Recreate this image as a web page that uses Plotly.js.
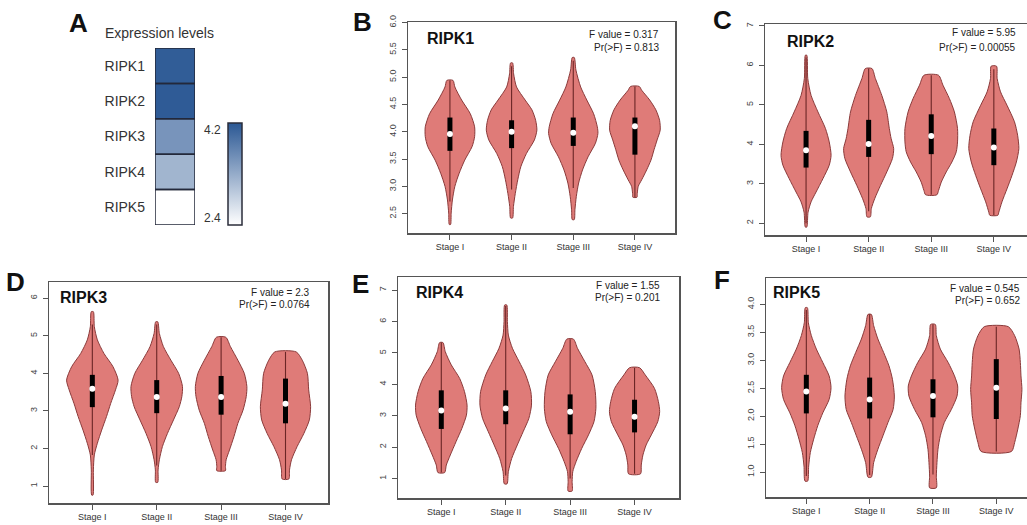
<!DOCTYPE html>
<html><head><meta charset="utf-8">
<script src="https://cdn.plot.ly/plotly-3.0.1.min.js"></script>
<style>html,body{margin:0;padding:0;background:#fff}#chart{width:1027px;height:525px}</style>
</head><body><div id="chart"></div>
<script>
// ---------------- DATA ----------------
const stages = ['Stage I', 'Stage II', 'Stage III', 'Stage IV'];
const genes = ['RIPK1', 'RIPK2', 'RIPK3', 'RIPK4', 'RIPK5'];
const heatValues = [4.15, 4.17, 3.55, 3.2, 2.4];
const heatRange = [2.4, 4.2];
const fValues = ['0.317', '5.95', '2.3', '1.55', '0.545'];
const pValues = ['0.813', '0.00055', '0.0764', '0.201', '0.652'];

// RIPK1
const ripk1Q1 = [3.65, 3.70, 3.74, 3.58];
const ripk1Median = [3.96, 4.00, 3.98, 4.10];
const ripk1Q3 = [4.26, 4.21, 4.26, 4.26];
const ripk1Low = [2.72, 2.94, 2.97, 2.80];
const ripk1High = [4.94, 5.20, 5.30, 4.83];
const ripk1ViolinY = [
  [4.94, 4.82, 4.58, 4.33, 4.09, 3.91, 3.73, 3.48, 3.24, 3.00, 2.75, 2.51, 2.30],
  [5.26, 5.06, 4.82, 4.58, 4.40, 4.21, 4.03, 3.85, 3.60, 3.36, 3.12, 2.87, 2.63, 2.42],
  [5.36, 5.13, 4.82, 4.58, 4.33, 4.09, 3.97, 3.79, 3.54, 3.30, 3.06, 2.81, 2.57, 2.39],
  [4.83, 4.76, 4.58, 4.40, 4.21, 4.03, 3.85, 3.67, 3.48, 3.30, 3.12, 3.00, 2.87, 2.80]
];
const ripk1ViolinW = [
  [0.05, 0.08, 0.19, 0.33, 0.40, 0.40, 0.36, 0.24, 0.15, 0.08, 0.04, 0.02, 0.01],
  [0.016, 0.033, 0.08, 0.22, 0.33, 0.39, 0.41, 0.37, 0.24, 0.15, 0.10, 0.06, 0.03, 0.016],
  [0.016, 0.043, 0.12, 0.22, 0.33, 0.39, 0.40, 0.36, 0.24, 0.15, 0.087, 0.049, 0.027, 0.016],
  [0.07, 0.11, 0.24, 0.34, 0.40, 0.41, 0.36, 0.31, 0.26, 0.19, 0.11, 0.054, 0.038, 0.033]
];

// RIPK2
const ripk2Q1 = [3.41, 3.68, 3.75, 3.47];
const ripk2Median = [3.85, 4.01, 4.21, 3.92];
const ripk2Q3 = [4.34, 4.62, 4.76, 4.40];
const ripk2Low = [2.00, 2.30, 2.72, 2.20];
const ripk2High = [6.20, 5.92, 5.75, 5.90];
const ripk2ViolinY = [
  [6.26, 5.67, 5.24, 4.82, 4.40, 4.06, 3.72, 3.47, 3.13, 2.79, 2.54, 2.28, 1.90],
  [5.92, 5.67, 5.24, 4.82, 4.40, 4.14, 3.89, 3.64, 3.30, 2.96, 2.62, 2.37, 2.16],
  [5.75, 5.50, 5.16, 4.82, 4.40, 4.06, 3.81, 3.55, 3.30, 3.04, 2.83, 2.72],
  [5.98, 5.67, 5.33, 4.99, 4.57, 4.23, 3.89, 3.55, 3.21, 2.87, 2.54, 2.28, 2.20]
];
const ripk2ViolinW = [
  [0.011, 0.027, 0.08, 0.19, 0.31, 0.37, 0.40, 0.37, 0.27, 0.16, 0.08, 0.032, 0.011],
  [0.053, 0.107, 0.21, 0.29, 0.33, 0.36, 0.40, 0.38, 0.29, 0.19, 0.096, 0.043, 0.027],
  [0.117, 0.187, 0.29, 0.37, 0.42, 0.42, 0.40, 0.33, 0.24, 0.16, 0.117, 0.09],
  [0.043, 0.053, 0.107, 0.21, 0.33, 0.38, 0.40, 0.36, 0.29, 0.21, 0.13, 0.08, 0.064]
];

// RIPK3
const ripk3Q1 = [3.10, 2.94, 2.90, 2.67];
const ripk3Median = [3.59, 3.37, 3.37, 3.19];
const ripk3Q3 = [3.96, 3.82, 3.93, 3.86];
const ripk3Low = [1.83, 1.55, 1.41, 1.19];
const ripk3High = [5.30, 5.30, 4.96, 4.57];
const ripk3ViolinY = [
  [5.64, 5.24, 4.89, 4.53, 4.18, 3.82, 3.56, 3.20, 2.85, 2.49, 2.14, 1.83, 1.43, 0.76],
  [5.37, 5.06, 4.71, 4.35, 4.00, 3.65, 3.38, 3.11, 2.76, 2.40, 2.05, 1.70, 1.43, 1.10],
  [4.96, 4.71, 4.35, 4.00, 3.65, 3.38, 3.02, 2.67, 2.32, 1.96, 1.70, 1.52, 1.41],
  [4.57, 4.35, 4.00, 3.56, 3.11, 2.76, 2.40, 2.05, 1.70, 1.43, 1.19]
];
const ripk3ViolinW = [
  [0.016, 0.031, 0.078, 0.18, 0.32, 0.40, 0.36, 0.285, 0.22, 0.145, 0.078, 0.031, 0.016, 0.01],
  [0.016, 0.041, 0.104, 0.22, 0.34, 0.40, 0.39, 0.35, 0.26, 0.166, 0.088, 0.041, 0.021, 0.016],
  [0.073, 0.145, 0.26, 0.36, 0.40, 0.39, 0.34, 0.26, 0.20, 0.13, 0.078, 0.067, 0.067],
  [0.166, 0.26, 0.34, 0.36, 0.39, 0.37, 0.285, 0.18, 0.093, 0.062, 0.052]
];

// RIPK4
const ripk4Q1 = [2.58, 2.73, 2.41, 2.47];
const ripk4Median = [3.17, 3.23, 3.13, 2.97];
const ripk4Q3 = [3.81, 3.81, 3.68, 3.51];
const ripk4Low = [1.19, 1.10, 1.00, 1.15];
const ripk4High = [5.33, 6.50, 5.44, 4.53];
const ripk4ViolinY = [
  [5.33, 5.04, 4.62, 4.19, 3.77, 3.34, 3.02, 2.60, 2.18, 1.75, 1.43, 1.19],
  [6.53, 6.00, 5.57, 5.15, 4.72, 4.30, 3.77, 3.34, 2.92, 2.49, 2.07, 1.64, 1.22, 0.83],
  [5.44, 5.15, 4.72, 4.30, 3.77, 3.24, 2.81, 2.39, 1.96, 1.54, 1.22, 0.90, 0.60],
  [4.53, 4.30, 3.87, 3.45, 3.13, 2.81, 2.39, 2.07, 1.75, 1.43, 1.15]
];
const ripk4ViolinW = [
  [0.026, 0.062, 0.155, 0.285, 0.36, 0.40, 0.39, 0.32, 0.23, 0.14, 0.078, 0.052],
  [0.016, 0.026, 0.041, 0.104, 0.21, 0.31, 0.39, 0.40, 0.36, 0.27, 0.18, 0.093, 0.041, 0.021],
  [0.052, 0.114, 0.23, 0.34, 0.39, 0.40, 0.37, 0.285, 0.18, 0.093, 0.041, 0.031, 0.031],
  [0.078, 0.166, 0.31, 0.37, 0.39, 0.36, 0.26, 0.18, 0.13, 0.104, 0.093]
];

// RIPK5
const ripk5Q1 = [2.05, 1.96, 1.98, 1.95];
const ripk5Median = [2.44, 2.30, 2.36, 2.51];
const ripk5Q3 = [2.74, 2.69, 2.66, 3.02];
const ripk5Low = [0.93, 0.95, 0.96, 1.37];
const ripk5High = [3.90, 3.82, 3.64, 3.60];
const ripk5ViolinY = [
  [3.94, 3.67, 3.44, 3.20, 2.96, 2.72, 2.51, 2.30, 2.06, 1.83, 1.59, 1.35, 1.11, 0.84],
  [3.82, 3.62, 3.38, 3.14, 2.90, 2.66, 2.36, 2.12, 1.89, 1.65, 1.41, 1.17, 0.91],
  [3.64, 3.44, 3.20, 2.96, 2.72, 2.54, 2.36, 2.12, 1.89, 1.65, 1.41, 1.17, 0.93, 0.72],
  [3.60, 3.44, 3.20, 2.96, 2.72, 2.48, 2.24, 2.01, 1.77, 1.53, 1.37]
];
const ripk5ViolinW = [
  [0.016, 0.032, 0.079, 0.158, 0.26, 0.36, 0.39, 0.36, 0.26, 0.18, 0.116, 0.063, 0.037, 0.021],
  [0.026, 0.063, 0.13, 0.22, 0.305, 0.36, 0.39, 0.37, 0.29, 0.21, 0.13, 0.063, 0.026],
  [0.037, 0.053, 0.116, 0.24, 0.34, 0.39, 0.38, 0.29, 0.18, 0.116, 0.079, 0.063, 0.053, 0.053],
  [0.19, 0.29, 0.36, 0.38, 0.39, 0.405, 0.39, 0.38, 0.34, 0.29, 0.24]
];

// ---------------- LAYOUT HELPERS ----------------
const W = 1027, H = 525;
const px = x => x / W;
const py = y => 1 - y / H;
const FONT = 'Liberation Sans, Arial, Helvetica, sans-serif';

const geneData = [
  {q1: ripk1Q1, med: ripk1Median, q3: ripk1Q3, lo: ripk1Low, hi: ripk1High, vy: ripk1ViolinY, vw: ripk1ViolinW},
  {q1: ripk2Q1, med: ripk2Median, q3: ripk2Q3, lo: ripk2Low, hi: ripk2High, vy: ripk2ViolinY, vw: ripk2ViolinW},
  {q1: ripk3Q1, med: ripk3Median, q3: ripk3Q3, lo: ripk3Low, hi: ripk3High, vy: ripk3ViolinY, vw: ripk3ViolinW},
  {q1: ripk4Q1, med: ripk4Median, q3: ripk4Q3, lo: ripk4Low, hi: ripk4High, vy: ripk4ViolinY, vw: ripk4ViolinW},
  {q1: ripk5Q1, med: ripk5Median, q3: ripk5Q3, lo: ripk5Low, hi: ripk5High, vy: ripk5ViolinY, vw: ripk5ViolinW}
];

const panels = [
  {letter: 'B', frame: [408, 22, 675, 233], xr: [0.32, 4.65], yr: [2.145, 6.01], dtick: 0.5, fmt: '.1f', mirrorY: true,
   title: [425, 38], stat: [661, 34, 47], letterPos: [362, 22]},
  {letter: 'C', frame: [765, 24, 1027, 235], xr: [0.344, 4.53], yr: [1.70, 7.05], dtick: 1, fmt: 'd', mirrorY: false,
   title: [785, 42], stat: [1018, 33, 47], letterPos: [722, 20]},
  {letter: 'D', frame: [49, 282, 328, 503], xr: [0.327, 4.66], yr: [0.55, 6.43], dtick: 1, fmt: 'd', mirrorY: true,
   title: [58, 297], stat: [312, 292, 304], letterPos: [15, 282]},
  {letter: 'E', frame: [398, 277, 679, 498], xr: [0.328, 4.69], yr: [0.38, 7.42], dtick: 1, fmt: 'd', mirrorY: true,
   title: [414, 292], stat: [662, 285, 297], letterPos: [360, 284]},
  {letter: 'F', frame: [766, 278, 1027, 497], xr: [0.363, 4.485], yr: [0.556, 4.47], dtick: 0.5, fmt: '.1f', mirrorY: false,
   title: [771, 292], stat: [1022, 288, 300], letterPos: [722, 280]}
];

const traces = [];
const layout = {
  width: W, height: H,
  margin: {l: 0, r: 0, t: 0, b: 0},
  paper_bgcolor: '#ffffff', plot_bgcolor: '#ffffff',
  showlegend: false,
  font: {family: FONT, color: '#333'},
  annotations: [], shapes: []
};

// ---------- Heatmap (panel A) ----------
traces.push({
  type: 'heatmap', xaxis: 'x', yaxis: 'y',
  x: [0], y: genes, z: heatValues.map(v => [v]),
  zmin: heatRange[0], zmax: heatRange[1],
  colorscale: [[0, '#ffffff'], [1, '#2b5894']],
  hoverinfo: 'skip',
  colorbar: {
    x: px(228), xanchor: 'left', y: py(123), yanchor: 'top',
    thicknessmode: 'pixels', thickness: 14, lenmode: 'pixels', len: 102,
    xpad: 0, ypad: 0, outlinewidth: 1.5, outlinecolor: '#2a2d3a',
    showticklabels: false, ticks: ''
  }
});
layout.xaxis = {domain: [px(155), px(195)], range: [-0.5, 0.5], showticklabels: false, showgrid: false, zeroline: false, ticks: '', fixedrange: true};
layout.yaxis = {domain: [py(225), py(48)], range: [4.5, -0.5], showgrid: false, zeroline: false, ticks: '',
  tickfont: {size: 14, color: '#333', family: FONT}, ticklabelstandoff: 9};
genes.forEach((g, i) => {
  layout.shapes.push({type: 'rect', xref: 'x', yref: 'y', x0: -0.5, x1: 0.5, y0: i - 0.5, y1: i + 0.5,
    line: {color: '#23283a', width: 1.5}, fillcolor: 'rgba(0,0,0,0)'});
});
layout.annotations.push(
  {text: 'A', x: px(78), y: py(23), xref: 'paper', yref: 'paper', showarrow: false, xanchor: 'center', yanchor: 'middle',
   font: {size: 26, family: FONT, color: '#111', weight: 'bold'}},
  {text: 'Expression levels', x: px(103), y: py(33), xref: 'paper', yref: 'paper', showarrow: false, xanchor: 'left', yanchor: 'middle',
   font: {size: 14, family: FONT, color: '#333'}},
  {text: heatRange[1].toFixed(1), x: px(223), y: py(130), xref: 'paper', yref: 'paper', showarrow: false, xanchor: 'right', yanchor: 'middle',
   font: {size: 12, family: FONT, color: '#333'}},
  {text: heatRange[0].toFixed(1), x: px(223), y: py(218), xref: 'paper', yref: 'paper', showarrow: false, xanchor: 'right', yanchor: 'middle',
   font: {size: 12, family: FONT, color: '#333'}}
);

// ---------- Violin panels ----------
panels.forEach((p, k) => {
  const n = k + 2;
  const xa = 'x' + n, ya = 'y' + n;
  const d = geneData[k];
  const [fx0, fy0, fx1, fy1] = p.frame;
  layout['xaxis' + n] = {
    domain: [px(fx0), px(fx1)], range: p.xr, anchor: ya,
    tickvals: [1, 2, 3, 4], ticktext: stages, ticks: 'outside', ticklen: 5, tickcolor: '#555', tickwidth: 1,
    tickfont: {size: 9, color: '#333', family: FONT},
    showline: true, mirror: true, linecolor: '#555', linewidth: 1.5,
    showgrid: false, zeroline: false, fixedrange: true
  };
  layout['yaxis' + n] = {
    domain: [py(fy1), py(fy0)], range: p.yr, anchor: xa,
    dtick: p.dtick, tick0: 0, tickformat: p.fmt, tickangle: -90, ticks: 'outside', ticklen: 5, tickcolor: '#555', tickwidth: 1,
    tickfont: {size: 9, color: '#444', family: FONT}, ticklabelstandoff: 2,
    showline: true, mirror: p.mirrorY, linecolor: '#555', linewidth: 1.5,
    showgrid: false, zeroline: false, fixedrange: true
  };
  for (let s = 0; s < 4; s++) {
    const c = s + 1;
    const ys = d.vy[s], ws = d.vw[s];
    const xs = [], yy = [];
    for (let i = 0; i < ys.length; i++) { xs.push(c - ws[i]); yy.push(ys[i]); }
    for (let i = ys.length - 1; i >= 0; i--) { xs.push(c + ws[i]); yy.push(ys[i]); }
    xs.push(xs[0]); yy.push(yy[0]);
    traces.push({type: 'scatter', mode: 'lines', xaxis: xa, yaxis: ya, x: xs, y: yy,
      fill: 'toself', fillcolor: '#df7b78', line: {color: '#8a3a3a', width: 1, shape: 'spline', smoothing: 0.7}, hoverinfo: 'skip'});
    traces.push({type: 'scatter', mode: 'lines', xaxis: xa, yaxis: ya, x: [c, c], y: [d.lo[s], d.hi[s]],
      line: {color: '#6b2626', width: 1.1}, hoverinfo: 'skip'});
    traces.push({type: 'scatter', mode: 'lines', xaxis: xa, yaxis: ya, x: [c, c], y: [d.q1[s], d.q3[s]],
      line: {color: '#000000', width: 5}, hoverinfo: 'skip'});
    traces.push({type: 'scatter', mode: 'markers', xaxis: xa, yaxis: ya, x: [c], y: [d.med[s]],
      marker: {color: '#ffffff', size: 6, line: {width: 0}}, hoverinfo: 'skip'});
  }
  layout.annotations.push(
    {text: p.letter, x: px(p.letterPos[0]), y: py(p.letterPos[1]), xref: 'paper', yref: 'paper', showarrow: false,
     xanchor: 'center', yanchor: 'middle', font: {size: 26, family: FONT, color: '#111', weight: 'bold'}},
    {text: genes[k], x: px(p.title[0]), y: py(p.title[1]), xref: 'paper', yref: 'paper', showarrow: false,
     xanchor: 'left', yanchor: 'middle', font: {size: 16, family: FONT, color: '#111', weight: 'bold'}},
    {text: 'F value = ' + fValues[k], x: px(p.stat[0]), y: py(p.stat[1]), xref: 'paper', yref: 'paper', showarrow: false,
     xanchor: 'right', yanchor: 'middle', font: {size: 10, family: FONT, color: '#222'}},
    {text: 'Pr(>F) = ' + pValues[k], x: px(p.stat[0]), y: py(p.stat[2]), xref: 'paper', yref: 'paper', showarrow: false,
     xanchor: 'right', yanchor: 'middle', font: {size: 10, family: FONT, color: '#222'}}
  );
});

Plotly.newPlot('chart', traces, layout, {staticPlot: true, displayModeBar: false});
</script>
</body></html>
